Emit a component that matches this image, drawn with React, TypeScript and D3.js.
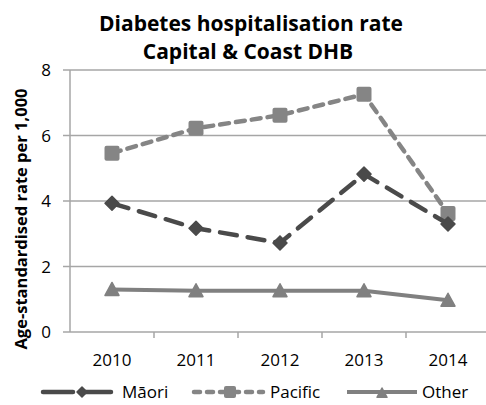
import React from "react";
import * as d3 from "d3";

const years = ["2010", "2011", "2012", "2013", "2014"];
const maori = [3.93, 3.17, 2.72, 4.82, 3.3];
const pacific = [5.46, 6.22, 6.62, 7.26, 3.62];
const other = [1.3, 1.26, 1.26, 1.26, 0.97];
const yTicks = [0, 2, 4, 6, 8];
const seriesNames = ["Māori", "Pacific", "Other"];

const FONT = "'Open Sans', sans-serif";

export default function App() {
  const W = 486, H = 405;
  const x = d3.scaleBand<string>().domain(years).range([70, 490]).padding(0);
  const y = d3.scaleLinear().domain([0, 8]).range([332, 70]);
  const cx = (yr: string) => (x(yr) as number) + x.bandwidth() / 2;
  const line = d3.line<number>().x((_, i) => cx(years[i])).y((d) => y(d));

  const grid = "#a6a6a6";
  const cMaori = "#4a4a4a";
  const cPac = "#858585";
  const cOther = "#808080";

  const diamond = (px: number, py: number, s: number, c: string, k: string) => (
    <path key={k} d={`M${px},${py - s}L${px + s},${py}L${px},${py + s}L${px - s},${py}Z`} fill={c} stroke={c} strokeWidth={1.5} strokeLinejoin="round" />
  );
  const square = (px: number, py: number, s: number, c: string, k: string) => (
    <rect key={k} x={px - s} y={py - s} width={2 * s} height={2 * s} rx={2} fill={c} />
  );
  const tri = (px: number, py: number, s: number, c: string, k: string) => (
    <path key={k} d={`M${px},${py - s}L${px + s},${py + s * 0.85}L${px - s},${py + s * 0.85}Z`} fill={c} stroke={c} strokeWidth={1.5} strokeLinejoin="round" />
  );

  return (
    <svg width={W} height={H} style={{ position: "absolute", left: 0, top: 0 }}>
      <rect width={W} height={H} fill="#fff" />
      <text x={251} y={31} textAnchor="middle" fontFamily={FONT} fontWeight="bold" fontSize={21} fill="#000">Diabetes hospitalisation rate</text>
      <text x={248} y={59} textAnchor="middle" fontFamily={FONT} fontWeight="bold" fontSize={21} fill="#000">Capital &amp; Coast DHB</text>

      {yTicks.map((t) => (
        <g key={t}>
          <line x1={63} x2={490} y1={y(t)} y2={y(t)} stroke={grid} strokeWidth={1.5} />
          <text x={51} y={y(t) + 6} textAnchor="end" fontFamily={FONT} fontSize={17} fill="#000">{t}</text>
        </g>
      ))}
      <line x1={70} x2={70} y1={70} y2={332} stroke={grid} strokeWidth={1.5} />
      {years.map((yr, i) => (
        <line key={"t" + i} x1={(x(yr) as number) + x.bandwidth()} x2={(x(yr) as number) + x.bandwidth()} y1={332} y2={338} stroke={grid} strokeWidth={1.5} />
      ))}
      {years.map((yr) => (
        <text key={yr} x={cx(yr)} y={366} textAnchor="middle" fontFamily={FONT} fontSize={17} fill="#000">{yr}</text>
      ))}

      <text transform={`translate(27,219) rotate(-90)`} textAnchor="middle" fontFamily={FONT} fontWeight="bold" fontSize={16.5} fill="#000">Age-standardised rate per 1,000</text>

      {/* Other */}
      <path d={line(other) || ""} fill="none" stroke={cOther} strokeWidth={4} />
      {other.map((v, i) => tri(cx(years[i]), y(v), 7, cOther, "o" + i))}
      {/* Pacific */}
      <path d={line(pacific) || ""} fill="none" stroke={cPac} strokeWidth={4.5} strokeDasharray="9,7" strokeLinecap="round" />
      {pacific.map((v, i) => square(cx(years[i]), y(v), 7.5, cPac, "p" + i))}
      {/* Maori */}
      <path d={line(maori) || ""} fill="none" stroke={cMaori} strokeWidth={4.5} strokeDasharray="17,11" strokeLinecap="round" />
      {maori.map((v, i) => diamond(cx(years[i]), y(v), 7, cMaori, "m" + i))}

      {/* Legend */}
      <g>
        <line x1={43} x2={117} y1={392} y2={392} stroke={cMaori} strokeWidth={4.5} strokeDasharray="30,8" strokeLinecap="round" />
        {diamond(82, 392, 5, cMaori, "lm")}
        <text x={122} y={398} fontFamily={FONT} fontSize={17} fill="#000">{seriesNames[0]}</text>
        <line x1={194} x2={263} y1={392} y2={392} stroke={cPac} strokeWidth={4.5} strokeDasharray="6,7" strokeLinecap="round" />
        {square(230, 392, 6, cPac, "lp")}
        <text x={270} y={398} fontFamily={FONT} fontSize={17} fill="#000">{seriesNames[1]}</text>
        <line x1={347} x2={417} y1={392} y2={392} stroke={cOther} strokeWidth={4} />
        {tri(382, 393, 5, cOther, "lo")}
        <text x={422} y={398} fontFamily={FONT} fontSize={17} fill="#000">{seriesNames[2]}</text>
      </g>
    </svg>
  );
}
